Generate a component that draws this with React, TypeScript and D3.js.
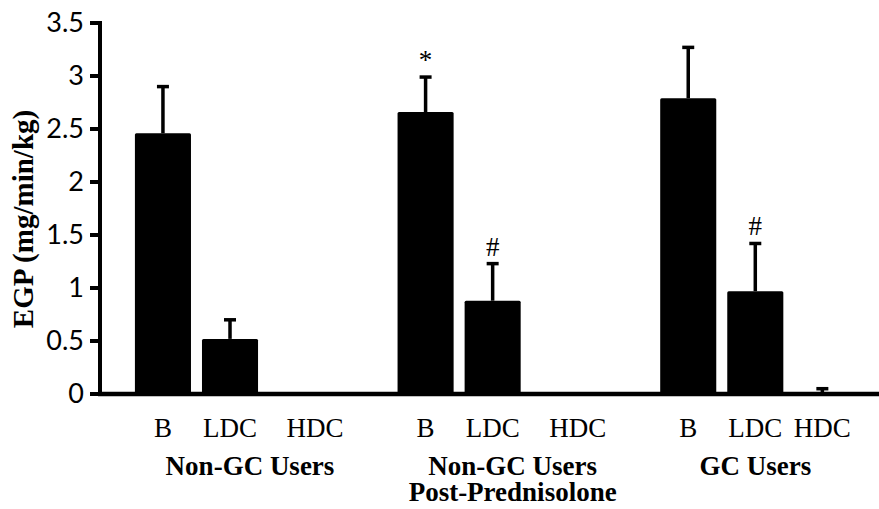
import * as d3 from 'd3'

const W = 879
const H = 509

// data
const groupLines = [['Non-GC Users'], ['Non-GC Users', 'Post-Prednisolone'], ['GC Users']]
const conditions = ['B', 'LDC', 'HDC']
const means = [
  [2.46, 0.52, 0],
  [2.66, 0.88, 0],
  [2.79, 0.97, 0.01],
]
const errs = [
  [0.44, 0.18, 0],
  [0.33, 0.35, 0],
  [0.48, 0.45, 0.04],
]
const marks = [
  ['', '', ''],
  ['*', '#', ''],
  ['', '#', ''],
]
const yTicks = [0, 0.5, 1, 1.5, 2, 2.5, 3, 3.5]

const AXIS_X = 100
const Y0 = 394

export default function App() {
  const y = d3.scaleLinear().domain([0, 3.5]).range([Y0, 23])
  const gx = d3
    .scaleBand<number>()
    .domain(d3.range(groupLines.length))
    .range([AXIS_X, W])
    .paddingInner(0.234)
    .paddingOuter(0.1)
    .align(0.56)
  const bx = d3
    .scaleBand<string>()
    .domain(conditions)
    .range([0, gx.bandwidth()])
    .paddingInner(0.164)
    .paddingOuter(0.082)

  const serif = '"Liberation Serif", "Times New Roman", serif'
  const sans = 'Lato, "Liberation Sans", sans-serif'

  return (
    <svg
      width={W}
      height={H}
      style={{ position: 'absolute', left: 0, top: 0, background: '#fff' }}
    >
      {/* bars + error bars */}
      {means.map((row, gi) => (
        <g key={gi} transform={`translate(${gx(gi)},0)`}>
          {row.map((v, ci) => {
            const c = conditions[ci]
            const x0 = bx(c) ?? 0
            const cx = x0 + bx.bandwidth() / 2
            const top = y(v + errs[gi][ci])
            // the category text in the original sits a bit right of the empty HDC slots
            const labelShift = c === 'HDC' && gi < 2 ? 18 : 0
            return (
              <g key={c}>
                {v > 0 && (
                  <rect
                    x={x0}
                    y={y(v)}
                    width={bx.bandwidth()}
                    height={Y0 - y(v)}
                    rx={1.5}
                    fill="#000"
                  />
                )}
                {errs[gi][ci] > 0 && (
                  <g stroke="#000">
                    <line x1={cx} x2={cx} y1={y(v)} y2={top} strokeWidth={3.5} />
                    <line x1={cx - 6} x2={cx + 6} y1={top} y2={top} strokeWidth={3.5} />
                  </g>
                )}
                {marks[gi][ci] && (
                  <text
                    x={cx}
                    y={top - 8}
                    textAnchor="middle"
                    fontFamily={serif}
                    fontSize={27}
                    fill="#000"
                  >
                    {marks[gi][ci]}
                  </text>
                )}
                <text
                  x={cx + labelShift}
                  y={437}
                  textAnchor="middle"
                  fontFamily={serif}
                  fontSize={27}
                  fill="#000"
                >
                  {c}
                </text>
              </g>
            )
          })}
          {groupLines[gi].map((t, li) => (
            <text
              key={li}
              x={gx.bandwidth() / 2 + (gi < 2 ? 20 : 0)}
              y={475 + li * 26}
              textAnchor="middle"
              fontFamily={serif}
              fontWeight="bold"
              fontSize={27}
              fill="#000"
            >
              {t}
            </text>
          ))}
        </g>
      ))}

      {/* y axis */}
      <line x1={AXIS_X} x2={AXIS_X} y1={y(3.5) - 2} y2={Y0 + 2} stroke="#000" strokeWidth={4} />
      {yTicks.map((t) => (
        <g key={t}>
          <line x1={AXIS_X - 10} x2={AXIS_X} y1={y(t)} y2={y(t)} stroke="#000" strokeWidth={4} />
          <text
            x={84}
            y={y(t)}
            dy="0.35em"
            textAnchor="end"
            fontFamily={sans}
            fontSize={27}
            fill="#000"
          >
            {t}
          </text>
        </g>
      ))}
      {/* x axis */}
      <line x1={AXIS_X - 2} x2={W} y1={Y0} y2={Y0} stroke="#000" strokeWidth={4.5} />

      <text
        transform={`translate(33,${219}) rotate(-90)`}
        textAnchor="middle"
        fontFamily={serif}
        fontWeight="bold"
        fontSize={29}
        fill="#000"
      >
        EGP (mg/min/kg)
      </text>
    </svg>
  )
}
